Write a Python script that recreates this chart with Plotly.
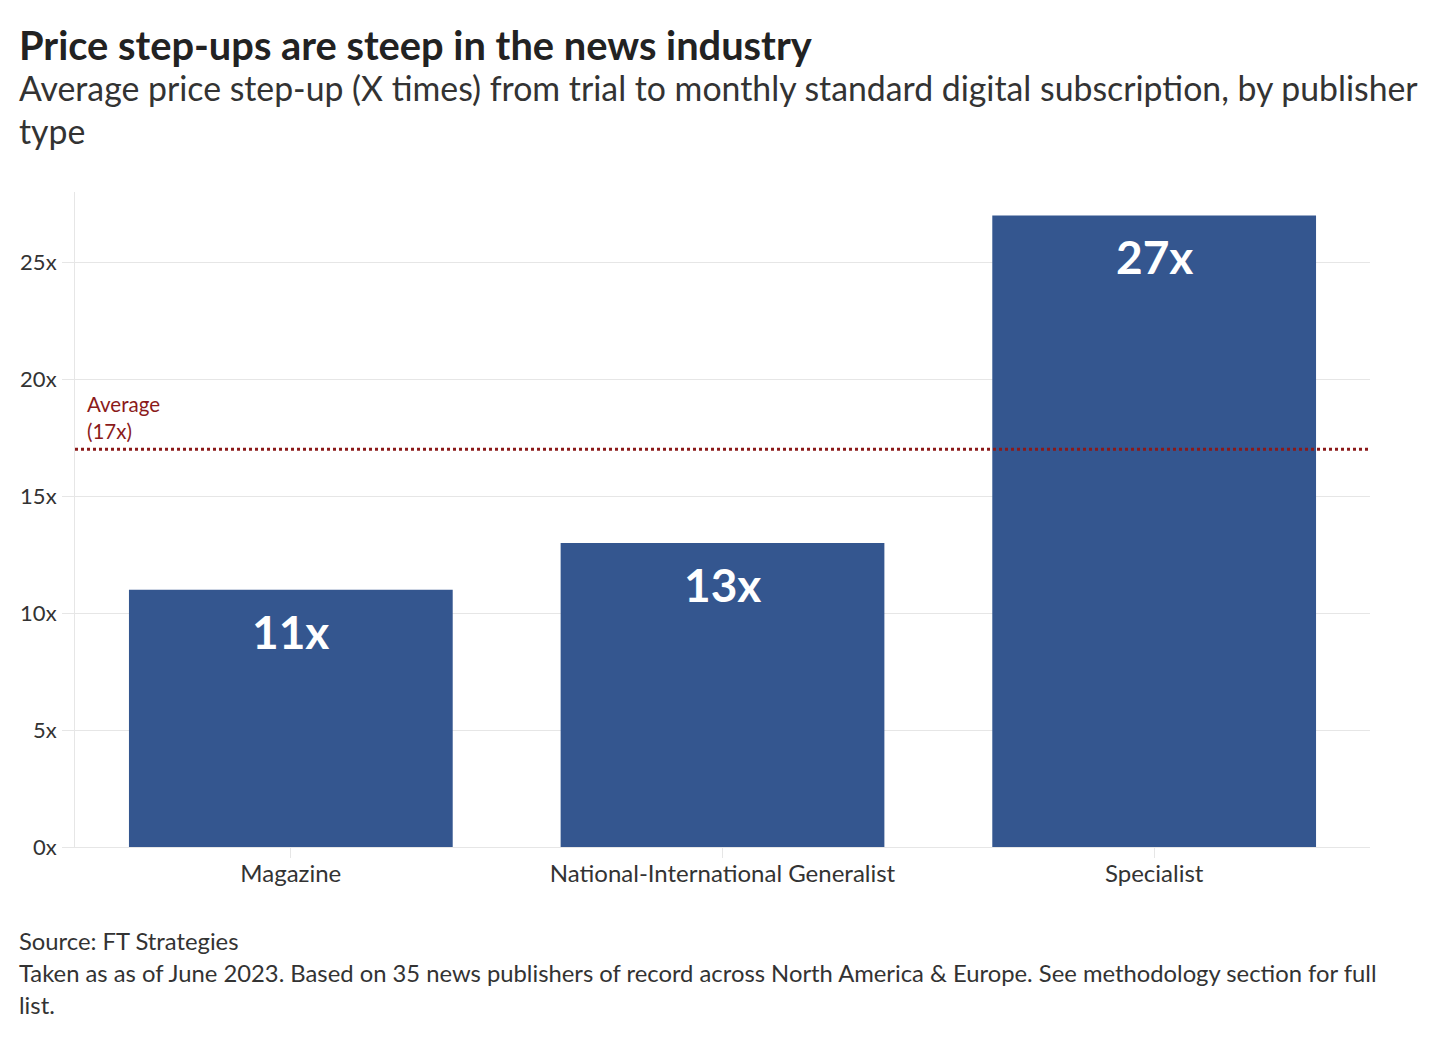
import plotly.graph_objects as go

categories = ["Magazine", "National-International Generalist", "Specialist"]
values = [11, 13, 27]
labels = ["11x", "13x", "27x"]
average = 17
y_ticks = [0, 5, 10, 15, 20, 25]
y_tick_text = ["0x", "5x", "10x", "15x", "20x", "25x"]

FONT = "Lato"
OFF = 8  # page body margin
W, H = 1440, 1040
L = 75 - OFF
T = 192 - OFF
R = W - 1370 + OFF
B = H - 847 + OFF
PW, PH = W - L - R, H - T - B

def px_x(px):
    return (px - OFF - L) / PW

def px_y(py):
    return (H - B - (py - OFF)) / PH

fig = go.Figure()
fig.add_trace(go.Bar(
    x=categories, y=values, marker=dict(color="#34568F", line=dict(width=0)),
    hoverinfo="skip", showlegend=False,
))

for c, v, t in zip(categories, values, labels):
    fig.add_annotation(x=c, y=v, text=f"<b>{t}</b>", showarrow=False,
                       yanchor="top", yshift=-12,
                       font=dict(family=FONT, size=46, color="white"))

fig.add_shape(type="line", xref="paper", x0=0, x1=1, yref="y", y0=average, y1=average,
              line=dict(color="#8B1A1A", width=3, dash="dot"), layer="above")
fig.add_annotation(xref="paper", x=px_x(85), y=average, yref="y",
                   text="Average<br>(17x)", showarrow=False, xanchor="left", yanchor="bottom",
                   align="left", yshift=4,
                   font=dict(family=FONT, size=20.5, color="#8B1A1A"))

# Title & subtitle
fig.add_annotation(xref="paper", yref="paper", x=px_x(17), y=px_y(44), xanchor="left", yanchor="middle",
                   text="<b>Price step-ups are steep in the news industry</b>", showarrow=False,
                   font=dict(family=FONT, size=39.8, color="#222222"))
fig.add_annotation(xref="paper", yref="paper", x=px_x(17), y=px_y(88), xanchor="left", yanchor="middle",
                   text="Average price step-up (X times) from trial to monthly standard digital subscription, by publisher",
                   showarrow=False, font=dict(family=FONT, size=33.8, color="#333333"))
fig.add_annotation(xref="paper", yref="paper", x=px_x(17), y=px_y(131), xanchor="left", yanchor="middle",
                   text="type", showarrow=False, font=dict(family=FONT, size=33.8, color="#333333"))

# Footer
foot = [
    (941, "Source: FT Strategies"),
    (973, "Taken as as of June 2023. Based on 35 news publishers of record across North America &amp; Europe. See methodology section for full"),
    (1005, "list."),
]
for py, t in foot:
    fig.add_annotation(xref="paper", yref="paper", x=px_x(17), y=px_y(py), xanchor="left", yanchor="middle",
                       text=t, showarrow=False, font=dict(family=FONT, size=23.8, color="#333333"))

fig.update_layout(
    width=W, height=H,
    margin=dict(l=L, r=R, t=T, b=B, autoexpand=False),
    paper_bgcolor="white", plot_bgcolor="white",
    bargap=0.25,
    font=dict(family=FONT, color="#333333"),
)
fig.update_xaxes(showgrid=False, showline=True, linecolor="#e6e6e6", linewidth=1,
                 ticks="outside", ticklen=10, tickcolor="#e6e6e6", ticklabelstandoff=-5,
                 tickfont=dict(family=FONT, size=24, color="#333333"), fixedrange=True)
fig.update_yaxes(range=[0, 28], tickvals=y_ticks, ticktext=y_tick_text,
                 showgrid=True, gridcolor="#e6e6e6", gridwidth=1,
                 showline=True, linecolor="#e6e6e6", linewidth=1, zeroline=False,
                 ticks="outside", ticklen=12, tickcolor="#e6e6e6", ticklabelstandoff=1,
                 tickfont=dict(family=FONT, size=22, color="#333333"), fixedrange=True)

fig.write_html("out.html")
